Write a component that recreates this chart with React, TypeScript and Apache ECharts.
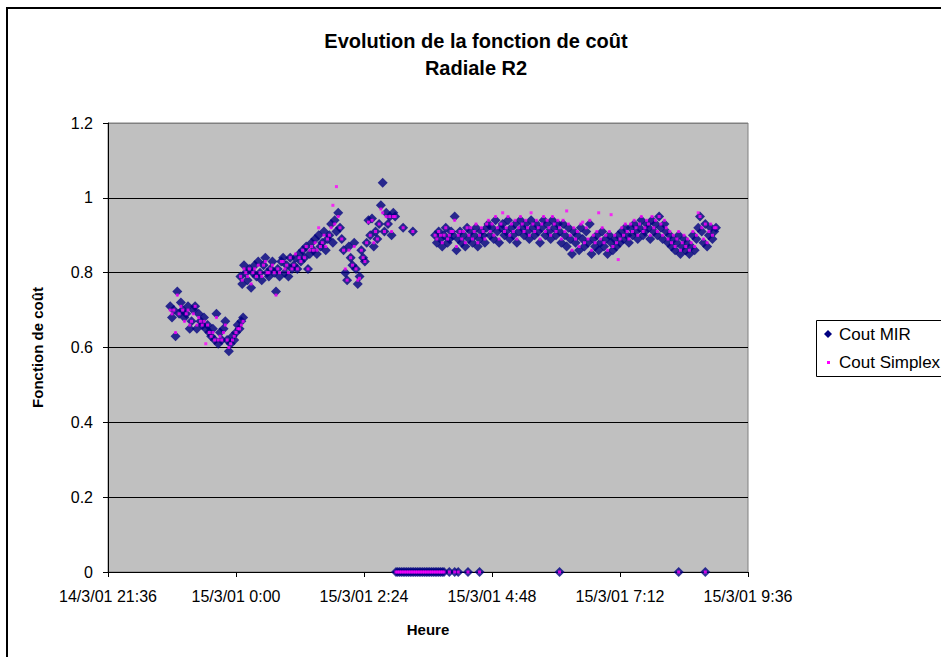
import React, { useEffect, useRef } from "react";
import * as echarts from "echarts";

// ---- texts ----
const titleLines = ["Evolution de la fonction de coût", "Radiale R2"];
const xAxisTitle = "Heure";
const yAxisTitle = "Fonction de coût";
const seriesNames = ["Cout MIR", "Cout Simplex"];

// ---- axes ----
const xMinLabel = "14/3/01 21:36";
const xMaxLabel = "15/3/01 9:36";
const xStepHours = 2.4;
const yMin = 0;
const yMax = 1.2;
const yStep = 0.2;

// ---- sampling ----
const sampleStepMin = 2;

// segment 1 : 22:46 -> 0:08
const seg1Start = "14/3/01 22:46";
const mirSeg1 = [
  0.71, 0.68, 0.70, 0.63, 0.75, 0.69, 0.72, 0.70, 0.68, 0.69,
  0.71, 0.65, 0.67, 0.70, 0.71, 0.65, 0.69, 0.67, 0.66, 0.68,
  0.65, 0.66, 0.64, 0.63, 0.65, 0.62, 0.69, 0.61, 0.64, 0.62,
  0.65, 0.67, 0.62, 0.59, 0.61, 0.63, 0.62, 0.64, 0.66, 0.65,
  0.67, 0.68,
];
const simSeg1 = [
  0.70, 0.69, 0.70, 0.64, 0.74, 0.69, 0.71, 0.70, 0.67, 0.69,
  0.70, 0.66, 0.67, 0.69, 0.71, 0.66, 0.68, 0.67, 0.66, 0.67,
  0.61, 0.66, 0.64, 0.63, 0.64, 0.62, 0.68, 0.62, 0.63, 0.62,
  0.64, 0.66, 0.62, 0.60, 0.61, 0.62, 0.63, 0.64, 0.65, 0.65,
  0.66, 0.67,
];

// segment 2 : 0:05 -> 2:59
const seg2Start = "15/3/01 0:05";
const mirSeg2 = [
  0.79, 0.77, 0.82, 0.80, 0.78, 0.81, 0.76, 0.80, 0.82, 0.79,
  0.83, 0.80, 0.78, 0.82, 0.84, 0.80, 0.79, 0.81, 0.83, 0.80,
  0.75, 0.81, 0.79, 0.83, 0.84, 0.80, 0.82, 0.79, 0.84, 0.81,
  0.82, 0.84, 0.81, 0.85, 0.83, 0.86, 0.84, 0.87, 0.81, 0.85,
  0.88, 0.86, 0.89, 0.85, 0.90, 0.87, 0.88, 0.91, 0.86, 0.89,
  0.90, 0.93, 0.88, 0.94, 0.91, 0.96, 0.92, 0.89, 0.86, 0.80,
  0.78, 0.87, 0.84, 0.82, 0.88, 0.81, 0.77, 0.79, 0.86, 0.84,
  0.83, 0.88, 0.94, 0.90, 0.945, 0.87, 0.91, 0.89, 0.93, 0.98,
  1.04, 0.91, 0.96, 0.93, 0.95, 0.90, 0.96, 0.95,
];
const simSeg2 = [
  0.79, 0.78, 0.81, 0.80, 0.79, 0.81, 0.77, 0.80, 0.81, 0.79,
  0.82, 0.80, 0.79, 0.82, 0.83, 0.80, 0.80, 0.81, 0.82, 0.80,
  0.74, 0.81, 0.80, 0.83, 0.83, 0.81, 0.82, 0.80, 0.84, 0.81,
  0.82, 0.85, 0.81, 0.84, 0.83, 0.86, 0.84, 0.87, 0.81, 0.86,
  0.87, 0.86, 0.88, 0.86, 0.92, 0.87, 0.88, 0.90, 0.87, 0.89,
  0.90, 0.92, 0.98, 0.93, 1.03, 0.95, 0.92, 0.89, 0.86, 0.81,
  0.78, 0.86, 0.84, 0.82, 0.87, 0.81, 0.78, 0.785, 0.86, 0.84,
  0.83, 0.88, 0.935, 0.90, 0.94, 0.88, 0.91, 0.89, 0.93, 0.97,
  0.96, 0.91, 0.95, 0.93, 0.95, 0.91, 0.95, 0.95,
];

// isolated points
const isolatedTimes = ["15/3/01 3:08", "15/3/01 3:19"];
const mirIsolated = [0.92, 0.91];
const simIsolated = [0.92, 0.91];

// segment 3 : 3:44 -> 9:00
const seg3Start = "15/3/01 3:44";
const mirSeg3 = [
  0.90, 0.88, 0.91, 0.89, 0.87, 0.90, 0.92, 0.88, 0.89, 0.91,
  0.90, 0.95, 0.86, 0.89, 0.91, 0.88, 0.90, 0.87, 0.92, 0.89,
  0.91, 0.88, 0.90, 0.92, 0.87, 0.89, 0.91, 0.90, 0.88, 0.92,
  0.93, 0.90, 0.92, 0.89, 0.94, 0.91, 0.88, 0.92, 0.93, 0.90,
  0.91, 0.94, 0.89, 0.92, 0.90, 0.93, 0.88, 0.91, 0.94, 0.92,
  0.90, 0.93, 0.91, 0.89, 0.94, 0.92, 0.90, 0.93, 0.91, 0.88,
  0.92, 0.94, 0.90, 0.93, 0.91, 0.89, 0.94, 0.92, 0.90, 0.93,
  0.91, 0.88, 0.93, 0.90, 0.87, 0.92, 0.89, 0.85, 0.91, 0.88,
  0.90, 0.86, 0.92, 0.89, 0.87, 0.91, 0.88, 0.93, 0.85, 0.89,
  0.87, 0.90, 0.86, 0.88, 0.91, 0.87, 0.89, 0.85, 0.90, 0.88,
  0.86, 0.89, 0.87, 0.90, 0.88, 0.91, 0.89, 0.92, 0.90, 0.88,
  0.92, 0.90, 0.93, 0.91, 0.89, 0.92, 0.94, 0.90, 0.91, 0.93,
  0.92, 0.89, 0.94, 0.91, 0.93, 0.90, 0.95, 0.92, 0.89, 0.93,
  0.91, 0.88, 0.90, 0.87, 0.89, 0.86, 0.88, 0.90, 0.85, 0.87,
  0.89, 0.86, 0.88, 0.85, 0.87, 0.90, 0.86, 0.89, 0.92, 0.95,
  0.91, 0.88, 0.93, 0.87, 0.90, 0.92, 0.89, 0.91, 0.92,
];
const simSeg3 = [
  0.90, 0.89, 0.91, 0.90, 0.88, 0.90, 0.92, 0.89, 0.90, 0.91,
  0.91, 0.94, 0.87, 0.90, 0.91, 0.89, 0.91, 0.88, 0.92, 0.90,
  0.92, 0.89, 0.91, 0.93, 0.88, 0.90, 0.92, 0.91, 0.89, 0.93,
  0.94, 0.91, 0.93, 0.90, 0.95, 0.92, 0.89, 0.93, 0.96, 0.91,
  0.92, 0.95, 0.90, 0.93, 0.91, 0.94, 0.89, 0.92, 0.95, 0.93,
  0.91, 0.94, 0.92, 0.90, 0.96, 0.93, 0.91, 0.94, 0.92, 0.89,
  0.93, 0.95, 0.91, 0.94, 0.92, 0.90, 0.95, 0.93, 0.91, 0.94,
  0.92, 0.89, 0.94, 0.91, 0.965, 0.93, 0.90, 0.86, 0.92, 0.89,
  0.91, 0.87, 0.93, 0.935, 0.88, 0.92, 0.89, 0.94, 0.86, 0.90,
  0.88, 0.91, 0.96, 0.89, 0.92, 0.88, 0.90, 0.86, 0.91, 0.955,
  0.87, 0.90, 0.88, 0.835, 0.89, 0.92, 0.90, 0.93, 0.91, 0.89,
  0.93, 0.91, 0.94, 0.92, 0.90, 0.93, 0.95, 0.91, 0.92, 0.94,
  0.93, 0.90, 0.95, 0.92, 0.94, 0.91, 0.95, 0.93, 0.90, 0.94,
  0.92, 0.89, 0.91, 0.88, 0.90, 0.87, 0.89, 0.91, 0.86, 0.88,
  0.90, 0.87, 0.89, 0.86, 0.88, 0.91, 0.87, 0.90, 0.96, 0.95,
  0.92, 0.89, 0.93, 0.88, 0.91, 0.93, 0.90, 0.92, 0.92,
];

// zero readings (both series) : dense run 3:00 -> 3:54, then scattered
const zeroRunStart = "15/3/01 3:00";
const zeroRun = [
  0, 0, 0, 0, 0, 0, 0, 0, 0, 0,
  0, 0, 0, 0, 0, 0, 0, 0, 0, 0,
  0, 0, 0, 0, 0, 0, 0, 0,
];
const zeroTimes = [
  "15/3/01 4:00", "15/3/01 4:06", "15/3/01 4:10", "15/3/01 4:21",
  "15/3/01 4:34", "15/3/01 6:04", "15/3/01 8:18", "15/3/01 8:48",
];
const zeroValues = [0, 0, 0, 0, 0, 0, 0, 0];

// ---- helpers ----
function toHours(s: string): number {
  const [d, t] = s.split(" ");
  const day = Number(d.split("/")[0]);
  const [h, m] = t.split(":").map(Number);
  return (day - 14) * 24 + h + m / 60;
}
function pad2(n: number) {
  return n < 10 ? "0" + n : String(n);
}
function fmtHours(v: number): string {
  const total = Math.round(v * 60);
  const day = 14 + Math.floor(total / 1440);
  const rem = total % 1440;
  const h = Math.floor(rem / 60);
  const mi = rem % 60;
  return `${day}/3/01 ${h}:${pad2(mi)}`;
}
function expand(start: string, values: number[]): number[][] {
  const t0 = toHours(start);
  return values.map((v, i) => [t0 + (i * sampleStepMin) / 60, v]);
}
function points(times: string[], values: number[]): number[][] {
  return times.map((t, i) => [toHours(t), values[i]]);
}

const mirData = [
  ...expand(seg1Start, mirSeg1),
  ...expand(seg2Start, mirSeg2),
  ...points(isolatedTimes, mirIsolated),
  ...expand(seg3Start, mirSeg3),
  ...expand(zeroRunStart, zeroRun),
  ...points(zeroTimes, zeroValues),
];
const simData = [
  ...expand(seg1Start, simSeg1),
  ...expand(seg2Start, simSeg2),
  ...points(isolatedTimes, simIsolated),
  ...expand(seg3Start, simSeg3),
  ...expand(zeroRunStart, zeroRun),
  ...points(zeroTimes, zeroValues),
];

const FONT = "'Liberation Sans', Arial, sans-serif";

export default function App() {
  const ref = useRef<HTMLDivElement>(null);
  useEffect(() => {
    if (!ref.current) return;
    const chart = echarts.init(ref.current, null, { renderer: "svg" });
    const legendX = 816;
    const legendY = 320;
    chart.setOption({
      animation: false,
      backgroundColor: "#ffffff",
      textStyle: { fontFamily: FONT },
      grid: {
        left: 108,
        right: 193,
        top: 123,
        bottom: 85,
        show: true,
        backgroundColor: "#C0C0C0",
        borderColor: "#808080",
        borderWidth: 1,
      },
      xAxis: {
        type: "value",
        min: toHours(xMinLabel),
        max: toHours(xMaxLabel),
        interval: xStepHours,
        name: xAxisTitle,
        nameLocation: "middle",
        nameGap: 50,
        nameTextStyle: { fontWeight: "bold", fontSize: 15, color: "#000", fontFamily: FONT },
        axisLine: { onZero: false, lineStyle: { color: "#000", width: 1 } },
        axisTick: { show: true, length: 5, lineStyle: { color: "#000" } },
        axisLabel: {
          formatter: (v: number) => fmtHours(v),
          fontSize: 16,
          color: "#000",
          margin: 16,
          fontFamily: FONT,
          showMinLabel: true,
          showMaxLabel: true,
          hideOverlap: false,
        },
        splitLine: { show: false },
      },
      yAxis: {
        type: "value",
        min: yMin,
        max: yMax,
        interval: yStep,
        name: yAxisTitle,
        nameLocation: "middle",
        nameGap: 63,
        nameTextStyle: { fontWeight: "bold", fontSize: 15, color: "#000", fontFamily: FONT },
        axisLine: { show: true, lineStyle: { color: "#000", width: 1 } },
        axisTick: { show: true, length: 5, lineStyle: { color: "#000" } },
        axisLabel: { fontSize: 16, color: "#000", margin: 15, fontFamily: FONT },
        splitLine: {
          show: true,
          lineStyle: { color: ["#000", "#000", "#000", "#000", "#000", "#000", "#808080"], width: 1 },
        },
      },
      series: [
        {
          name: seriesNames[0],
          type: "scatter",
          symbol: "diamond",
          symbolSize: 10,
          itemStyle: { color: "#000080" },
          data: mirData,
          z: 2,
        },
        {
          name: seriesNames[1],
          type: "scatter",
          symbol: "rect",
          symbolSize: 3,
          itemStyle: { color: "#FF00FF" },
          data: simData,
          z: 3,
        },
      ],
      graphic: [
        {
          type: "rect",
          z: 100,
          shape: { x: 7, y: 8, width: 938, height: 720 },
          style: { fill: "transparent", stroke: "#000", lineWidth: 2 },
        },
        {
          type: "text",
          x: 476,
          y: 41,
          style: {
            text: titleLines[0],
            textAlign: "center",
            textVerticalAlign: "middle",
            font: `bold 20px ${FONT}`,
            fill: "#000",
          },
        },
        {
          type: "text",
          x: 476,
          y: 68,
          style: {
            text: titleLines[1],
            textAlign: "center",
            textVerticalAlign: "middle",
            font: `bold 20px ${FONT}`,
            fill: "#000",
          },
        },
        {
          type: "rect",
          shape: { x: legendX + 0.5, y: legendY + 0.5, width: 200, height: 56 },
          style: { fill: "#fff", stroke: "#000", lineWidth: 1 },
        },
        {
          type: "polygon",
          shape: {
            points: [
              [legendX + 12, legendY + 10],
              [legendX + 16, legendY + 14],
              [legendX + 12, legendY + 18],
              [legendX + 8, legendY + 14],
            ],
          },
          style: { fill: "#000080" },
        },
        {
          type: "text",
          x: legendX + 23,
          y: legendY + 14,
          style: {
            text: seriesNames[0],
            textVerticalAlign: "middle",
            font: `17px ${FONT}`,
            fill: "#000",
          },
        },
        {
          type: "rect",
          shape: { x: legendX + 11, y: legendY + 41, width: 3, height: 3 },
          style: { fill: "#FF00FF" },
        },
        {
          type: "text",
          x: legendX + 23,
          y: legendY + 42,
          style: {
            text: seriesNames[1],
            textVerticalAlign: "middle",
            font: `17px ${FONT}`,
            fill: "#000",
          },
        },
      ],
    });
    return () => chart.dispose();
  }, []);
  return (
    <div
      ref={ref}
      style={{ position: "fixed", left: 0, top: 0, width: 941, height: 657, background: "#fff" }}
    />
  );
}
